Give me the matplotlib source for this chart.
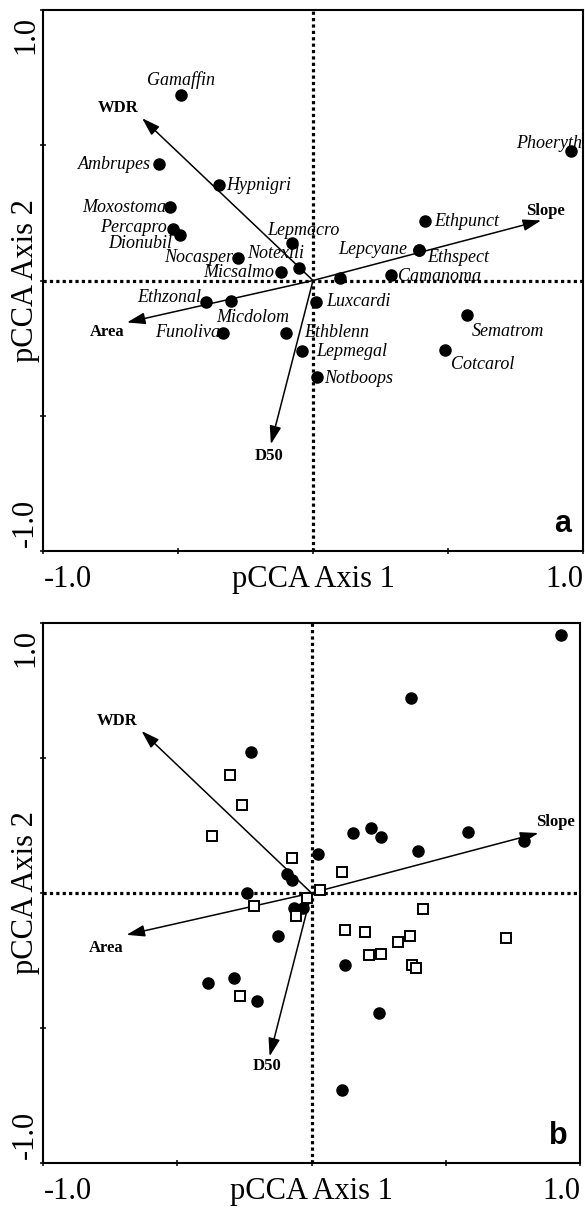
import matplotlib
matplotlib.use("Agg")
import matplotlib.pyplot as plt

plt.rcParams['font.family'] = ['Liberation Serif', 'DejaVu Serif']

# ---------------- data ----------------
# panel a: species scores
species_a = ["Gamaffin", "Ambrupes", "Hypnigri", "Moxostoma", "Percapro", "Dionubil",
             "Nocasper", "Notexili", "Lepmacro", "Micsalmo", "Ethzonal", "Micdolom",
             "Funoliva", "Ethblenn", "Luxcardi", "Lepmegal", "Notboops", "Sematrom",
             "Cotcarol", "Phoeryth", "Ethpunct", "Lepcyane", "Ethspect", "Camanoma", ""]
axis1_a = [-0.489, -0.570, -0.348, -0.530, -0.519, -0.493, -0.278, -0.052, -0.078, -0.119,
           -0.396, -0.304, -0.333, -0.100, 0.011, -0.041, 0.015, 0.570, 0.489, 0.956,
           0.415, 0.393, 0.393, 0.289, 0.100]
axis2_a = [0.685, 0.430, 0.352, 0.270, 0.189, 0.167, 0.085, 0.048, 0.137, 0.030,
           -0.081, -0.074, -0.193, -0.193, -0.078, -0.259, -0.356, -0.126, -0.256, 0.478,
           0.219, 0.111, 0.111, 0.019, 0.011]

# environmental vectors (same in both panels)
env_names = ["WDR", "Slope", "Area", "D50"]
env_axis1 = [-0.633, 0.845, -0.689, -0.156]
env_axis2 = [0.600, 0.222, -0.155, -0.605]

# panel b: site scores, two groups
filled_axis1 = [-0.227, -0.093, -0.074, -0.242, 0.026, -0.067, -0.033, -0.123, 0.929, 0.372,
                0.156, 0.223, 0.260, 0.584, 0.398, 0.792, 0.126, -0.387, -0.290, -0.204,
                0.253, 0.112]
filled_axis2 = [0.522, 0.070, 0.048, 0.000, 0.144, -0.056, -0.056, -0.159, 0.956, 0.722,
                0.222, 0.241, 0.207, 0.226, 0.156, 0.193, -0.267, -0.333, -0.315, -0.400,
                -0.444, -0.730]
open_axis1 = [-0.305, -0.257, -0.372, -0.074, -0.216, -0.015, 0.033, -0.059, 0.115, 0.416,
              0.126, 0.201, 0.323, 0.368, 0.216, 0.257, 0.375, 0.390, 0.725, -0.268]
open_axis2 = [0.437, 0.326, 0.211, 0.130, -0.048, -0.019, 0.011, -0.085, 0.078, -0.059,
              -0.137, -0.144, -0.181, -0.159, -0.230, -0.226, -0.267, -0.278, -0.167, -0.381]

xlabel = "pCCA Axis 1"
ylabel = "pCCA Axis 2"
panel_letters = ["a", "b"]

# ---------------- layout (label placement, pixels) ----------------
species_offsets = {
    "Gamaffin": (0, 15, "center"), "Ambrupes": (-8, 0, "right"), "Hypnigri": (7, 0, "left"),
    "Moxostoma": (-4, 0, "right"), "Percapro": (-6, 2, "right"), "Dionubil": (-8, -8, "right"),
    "Nocasper": (-5, 0, "right"), "Notexili": (-23, 14, "center"), "Lepmacro": (11, 13, "center"),
    "Micsalmo": (-7, 0, "right"), "Ethzonal": (-5, 5, "right"), "Micdolom": (22, -17, "center"),
    "Funoliva": (-3, 0, "right"), "Ethblenn": (18, 0, "left"), "Luxcardi": (10, 0, "left"),
    "Lepmegal": (14, -1, "left"), "Notboops": (7, -2, "left"), "Sematrom": (5, -17, "left"),
    "Cotcarol": (6, -15, "left"), "Phoeryth": (-22, 8, "center"), "Ethpunct": (9, 0, "left"),
    "Lepcyane": (-12, 1, "right"), "Ethspect": (8, -7, "left"), "Camanoma": (7, -1, "left"),
}
env_offsets = [
    {"WDR": (-24, 10), "Slope": (4, 9), "Area": (-20, -10), "D50": (-2, -12)},
    {"WDR": (-24, 10), "Slope": (17, 11), "Area": (-20, -13), "D50": (-3, -10)},
]

W, H = 585, 1210
fig = plt.figure(figsize=(W / 100, H / 100), dpi=100)
ax_a = fig.add_axes([43 / W, (H - 551) / H, 540 / W, 541 / H])
ax_b = fig.add_axes([43 / W, (H - 1163) / H, 537 / W, 540 / H])


def style_axes(ax, letter, env_off):
    ax.set_xlim(-1, 1)
    ax.set_ylim(-1, 1)
    ax.set_xticks([-1, -0.5, 0, 0.5, 1])
    ax.set_yticks([-1, -0.5, 0, 0.5, 1])
    ax.tick_params(direction="inout", length=5, width=1.1, labelbottom=False,
                   labelleft=False, top=False, right=False)
    for s in ax.spines.values():
        s.set_linewidth(1.5)
    ax.axhline(0, color="black", lw=2.3, ls=(0, (1, 1)), zorder=1)
    ax.axvline(0, color="black", lw=2.3, ls=(0, (1, 1)), zorder=1)
    # env vectors
    for n, ex, ey in zip(env_names, env_axis1, env_axis2):
        ax.annotate("", xy=(ex, ey), xytext=(0, 0),
                    arrowprops=dict(arrowstyle="-|>,head_length=1.0,head_width=0.32",
                                    mutation_scale=11, lw=1.1, color="black",
                                    shrinkA=0, shrinkB=0), zorder=2)
        dx, dy = env_off[n]
        ax.annotate(n, xy=(ex, ey), xytext=(dx, dy), textcoords="offset pixels",
                    ha="center", va="center", fontsize=12, fontweight="bold", zorder=4)
    # axis texts
    ax.annotate(xlabel, xy=(0.5, 0), xycoords="axes fraction", xytext=(0, -36),
                textcoords="offset pixels", ha="center", va="baseline", fontsize=22)
    ax.annotate("-1.0", xy=(0, 0), xycoords="axes fraction", xytext=(1, -36),
                textcoords="offset pixels", ha="left", va="baseline", fontsize=22)
    ax.annotate("1.0", xy=(1, 0), xycoords="axes fraction", xytext=(0, -36),
                textcoords="offset pixels", ha="right", va="baseline", fontsize=22)
    ax.annotate(ylabel, xy=(0, 0.5), xycoords="axes fraction", xytext=(-10, 0),
                textcoords="offset pixels", ha="center", va="baseline", rotation=90,
                rotation_mode="anchor", fontsize=22)
    ax.annotate("1.0", xy=(0, 1), xycoords="axes fraction", xytext=(-10, -6),
                textcoords="offset pixels", ha="right", va="baseline", rotation=90,
                rotation_mode="anchor", fontsize=22)
    ax.annotate("-1.0", xy=(0, 0), xycoords="axes fraction", xytext=(-10, 4),
                textcoords="offset pixels", ha="left", va="baseline", rotation=90,
                rotation_mode="anchor", fontsize=22)
    ax.annotate(letter, xy=(1, 0), xycoords="axes fraction", xytext=(-12, 19),
                textcoords="offset pixels", ha="right", va="baseline", fontsize=22,
                fontweight="bold", family=["Liberation Sans", "DejaVu Sans"])


style_axes(ax_a, panel_letters[0], env_offsets[0])
style_axes(ax_b, panel_letters[1], env_offsets[1])

# panel a points and labels
ax_a.plot(axis1_a, axis2_a, "o", color="black", ms=8, zorder=3)
for n, x, y in zip(species_a, axis1_a, axis2_a):
    if not n:
        continue
    dx, dy, ha = species_offsets[n]
    ax_a.annotate(n, xy=(x, y), xytext=(dx, dy), textcoords="offset pixels",
                  ha=ha, va="center", fontsize=13, fontstyle="italic", zorder=4)

# panel b points
ax_b.plot(filled_axis1, filled_axis2, "o", color="black", ms=8, zorder=3)
ax_b.plot(open_axis1, open_axis2, "s", mfc="white", mec="black", ms=7.5, mew=1.4, zorder=3)

fig.savefig("out.png", dpi=100)
